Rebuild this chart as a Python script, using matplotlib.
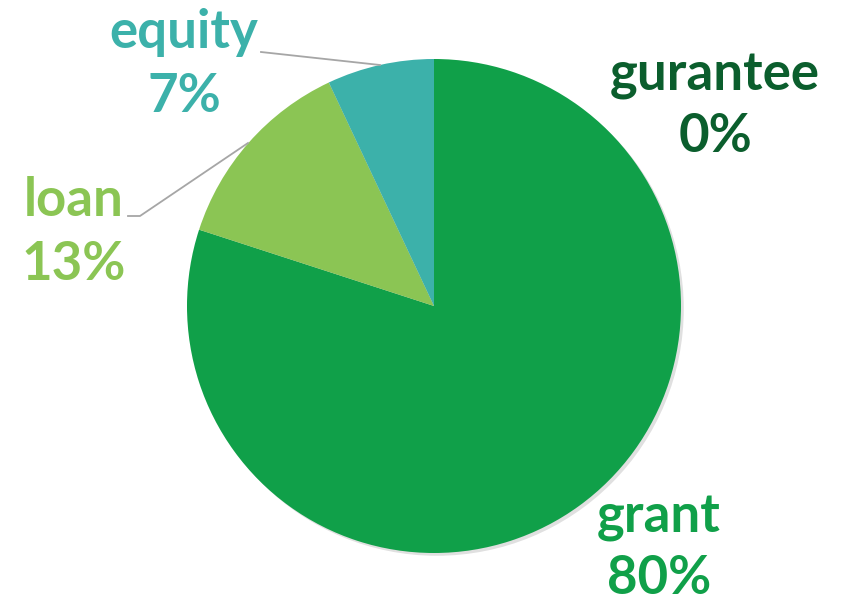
import matplotlib.pyplot as plt
import matplotlib.patheffects as pe
from matplotlib.patches import Circle

# Data
categories = ['grant', 'loan', 'equity', 'gurantee']
shares = [80, 13, 7, 0]
colors = ['#10A049', '#8BC554', '#3CB1AA', '#0B5E2D']

W, H = 843, 607

fig = plt.figure(figsize=(W / 100, H / 100), dpi=100)
ax = fig.add_axes([0, 0, 1, 1])


def py(y):
    # pixel row (from top) -> data y
    return H - y


center = (434, py(306))
radius = 247

# soft shadow under the whole pie
shadow = Circle(center, radius, facecolor='white', edgecolor='none', zorder=0)
shadow.set_path_effects([pe.SimplePatchShadow(offset=(2, -2), alpha=0.12, shadow_rgbFace='black')])
ax.add_patch(shadow)

wedges, _ = ax.pie(shares, colors=colors, startangle=90, counterclock=False,
                   center=center, radius=radius, frame=True,
                   wedgeprops=dict(linewidth=0, zorder=1))
for w, v in zip(wedges, shares):
    if v == 0:
        w.set_visible(False)  # zero slice: nothing to draw
ax.set_xlim(0, W)
ax.set_ylim(0, H)
ax.set_aspect('equal')
ax.axis('off')

# Leader lines
ax.plot([261, 380], [py(52), py(65)], color='#A6A6A6', lw=1.3)
ax.plot([128, 140, 248], [py(216), py(216), py(143)], color='#A6A6A6', lw=1.3)

# Labels (name, percent)
label_pos = {
    'grant': (659, 533, 594),
    'loan': (74, 216, 280),
    'equity': (184, 48, 112),
    'gurantee': (715, 90, 152),
}
fs = 38
for name, val, col in zip(categories, shares, colors):
    x, y1, y2 = label_pos[name]
    ax.text(x, py(y1), name, color=col, fontsize=fs, fontweight='bold',
            family='Lato', ha='center', va='baseline')
    ax.text(x, py(y2), f'{val}%', color=col, fontsize=fs, fontweight='bold',
            family='Lato', ha='center', va='baseline')

fig.savefig('out.png', dpi=100)
